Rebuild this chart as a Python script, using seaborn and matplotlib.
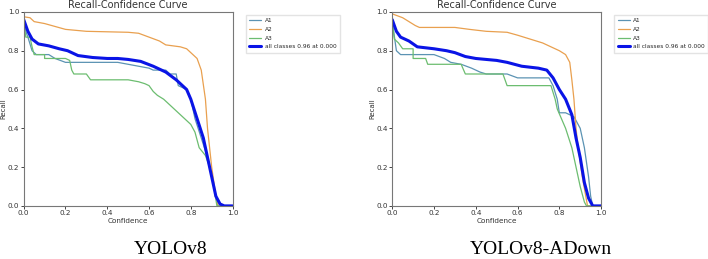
import seaborn as sns
import matplotlib.pyplot as plt

sns.set_theme(style="white")
plt.rcParams['font.family'] = 'DejaVu Sans'

# Recall-Confidence curves (confidence, recall)
# YOLOv8
v8_a1_x = [0.0, 0.01, 0.02, 0.04, 0.06, 0.12, 0.15, 0.2, 0.45, 0.5, 0.55, 0.6, 0.62, 0.68, 0.7, 0.73, 0.74, 0.78, 0.8, 0.82, 0.85, 0.88, 0.89, 0.91, 0.93, 1.0]
v8_a1_y = [0.95, 0.90, 0.87, 0.80, 0.78, 0.78, 0.76, 0.74, 0.74, 0.73, 0.72, 0.71, 0.70, 0.70, 0.68, 0.68, 0.62, 0.60, 0.55, 0.45, 0.35, 0.25, 0.20, 0.10, 0.0, 0.0]
v8_a2_x = [0.0, 0.03, 0.05, 0.1, 0.2, 0.3, 0.5, 0.55, 0.6, 0.65, 0.68, 0.75, 0.78, 0.8, 0.83, 0.85, 0.87, 0.88, 0.89, 0.9, 0.92, 0.93, 1.0]
v8_a2_y = [0.975, 0.97, 0.95, 0.94, 0.91, 0.90, 0.895, 0.89, 0.87, 0.85, 0.83, 0.82, 0.81, 0.79, 0.76, 0.70, 0.55, 0.40, 0.30, 0.20, 0.05, 0.0, 0.0]
v8_a3_x = [0.0, 0.01, 0.03, 0.04, 0.05, 0.1, 0.1, 0.2, 0.22, 0.23, 0.24, 0.3, 0.32, 0.5, 0.55, 0.58, 0.6, 0.62, 0.64, 0.67, 0.69, 0.72, 0.75, 0.78, 0.8, 0.82, 0.84, 0.87, 0.89, 0.91, 0.925, 1.0]
v8_a3_y = [0.95, 0.87, 0.87, 0.82, 0.78, 0.78, 0.76, 0.76, 0.75, 0.70, 0.68, 0.68, 0.65, 0.65, 0.64, 0.63, 0.62, 0.59, 0.57, 0.55, 0.53, 0.50, 0.47, 0.44, 0.42, 0.38, 0.30, 0.26, 0.20, 0.10, 0.0, 0.0]
v8_all_x = [0.0, 0.02, 0.04, 0.07, 0.12, 0.17, 0.21, 0.26, 0.33, 0.4, 0.45, 0.5, 0.56, 0.62, 0.68, 0.73, 0.78, 0.8, 0.83, 0.86, 0.88, 0.9, 0.92, 0.94, 0.96, 1.0]
v8_all_y = [0.96, 0.90, 0.86, 0.835, 0.825, 0.81, 0.80, 0.775, 0.765, 0.76, 0.76, 0.755, 0.745, 0.72, 0.69, 0.65, 0.60, 0.55, 0.45, 0.35, 0.25, 0.15, 0.05, 0.01, 0.0, 0.0]

# YOLOv8-ADown
ad_a1_x = [0.0, 0.02, 0.04, 0.2, 0.25, 0.28, 0.33, 0.38, 0.42, 0.45, 0.55, 0.6, 0.75, 0.77, 0.79, 0.8, 0.83, 0.87, 0.9, 0.92, 0.94, 0.95, 0.96, 1.0]
ad_a1_y = [0.95, 0.80, 0.78, 0.78, 0.76, 0.74, 0.73, 0.71, 0.69, 0.68, 0.68, 0.66, 0.66, 0.62, 0.55, 0.48, 0.48, 0.46, 0.40, 0.30, 0.15, 0.05, 0.0, 0.0]
ad_a2_x = [0.0, 0.05, 0.08, 0.11, 0.13, 0.3, 0.37, 0.45, 0.55, 0.6, 0.66, 0.72, 0.76, 0.8, 0.83, 0.85, 0.86, 0.87, 0.88, 0.89, 0.91, 0.935, 1.0]
ad_a2_y = [0.99, 0.97, 0.95, 0.93, 0.92, 0.92, 0.91, 0.90, 0.895, 0.88, 0.86, 0.84, 0.82, 0.80, 0.78, 0.74, 0.65, 0.55, 0.40, 0.30, 0.15, 0.0, 0.0]
ad_a3_x = [0.0, 0.01, 0.03, 0.05, 0.1, 0.1, 0.16, 0.17, 0.33, 0.35, 0.53, 0.55, 0.76, 0.78, 0.79, 0.81, 0.83, 0.86, 0.88, 0.9, 0.92, 0.93, 1.0]
ad_a3_y = [0.95, 0.86, 0.84, 0.81, 0.81, 0.76, 0.76, 0.73, 0.73, 0.68, 0.68, 0.62, 0.62, 0.55, 0.50, 0.45, 0.40, 0.30, 0.20, 0.10, 0.02, 0.0, 0.0]
ad_all_x = [0.0, 0.02, 0.04, 0.08, 0.12, 0.2, 0.26, 0.3, 0.35, 0.4, 0.5, 0.55, 0.62, 0.7, 0.74, 0.77, 0.8, 0.83, 0.86, 0.88, 0.9, 0.92, 0.94, 0.96, 1.0]
ad_all_y = [0.96, 0.90, 0.87, 0.85, 0.82, 0.81, 0.80, 0.79, 0.77, 0.76, 0.75, 0.74, 0.72, 0.71, 0.70, 0.66, 0.60, 0.55, 0.47, 0.35, 0.25, 0.12, 0.04, 0.0, 0.0]

class_names = ["A1", "A2", "A3"]
all_label = "all classes 0.96 at 0.000"
captions = ["YOLOv8", "YOLOv8-ADown"]
ticks = [0.0, 0.2, 0.4, 0.6, 0.8, 1.0]

colors = ["#5b93b3", "#e9a04f", "#6cbd70"]

fig = plt.figure(figsize=(7.08, 2.59), dpi=100)
ax_left = fig.add_axes([0.0335, 0.205, 0.295, 0.749])
ax_right = fig.add_axes([0.554, 0.205, 0.295, 0.749])

panels = [
    (ax_left, [(v8_a1_x, v8_a1_y), (v8_a2_x, v8_a2_y), (v8_a3_x, v8_a3_y)], (v8_all_x, v8_all_y)),
    (ax_right, [(ad_a1_x, ad_a1_y), (ad_a2_x, ad_a2_y), (ad_a3_x, ad_a3_y)], (ad_all_x, ad_all_y)),
]

for ax, curves, mean in panels:
    for (cx, cy), name, col in zip(curves, class_names, colors):
        sns.lineplot(x=cx, y=cy, ax=ax, sort=False, estimator=None,
                     color=col, linewidth=0.9, label=name)
    sns.lineplot(x=mean[0], y=mean[1], ax=ax, sort=False, estimator=None,
                 color="#0a14e6", linewidth=2.2, label=all_label)

    ax.set_xlim(0, 1)
    ax.set_ylim(0, 1)
    ax.set_xticks(ticks)
    ax.set_yticks(ticks)
    ax.set_xticklabels([f"{t:.1f}" for t in ticks], fontsize=5.2, color="#333333")
    ax.set_yticklabels([f"{t:.1f}" for t in ticks], fontsize=5.2, color="#333333")
    ax.tick_params(axis='both', length=2, width=0.6, pad=1.2, bottom=True, left=True)
    for s in ax.spines.values():
        s.set_color("#777777")
        s.set_linewidth(0.8)
    ax.set_xlabel("Confidence", fontsize=5.2, labelpad=1, color="#333333")
    ax.set_ylabel("Recall", fontsize=5, labelpad=1, color="#333333")
    ax.set_title("Recall-Confidence Curve", fontsize=7, pad=3, color="#333333")
    ax.legend(loc="upper left", bbox_to_anchor=(1.05, 1.0), fontsize=4.2,
              frameon=True, edgecolor="#dddddd", fancybox=False,
              handlelength=2.0, borderpad=0.6, labelspacing=0.6,
              handletextpad=0.6)

fig.text(171 / 708, 0.035, captions[0], ha="center", va="center",
         fontsize=14, family="Liberation Serif", color="black")
fig.text(541 / 708, 0.035, captions[1], ha="center", va="center",
         fontsize=14, family="Liberation Serif", color="black")

fig.savefig("out.png", dpi=100)
